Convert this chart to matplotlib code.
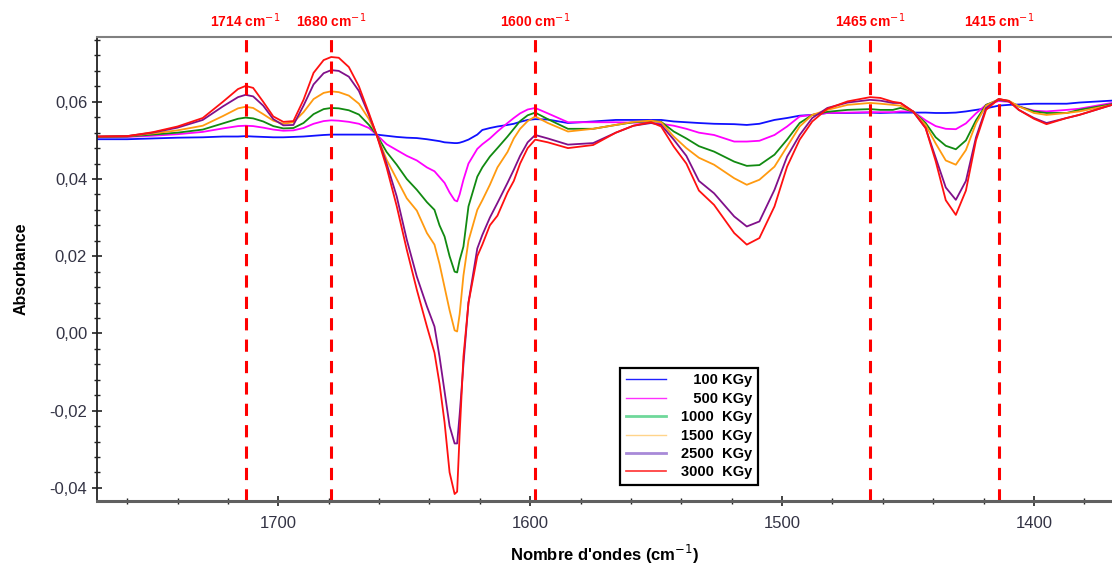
import matplotlib
matplotlib.use('Agg')
import matplotlib.pyplot as plt
from matplotlib.lines import Line2D
from matplotlib.ticker import MultipleLocator, FuncFormatter

# nombre d'onde (cm-1)
wn = [1772, 1760, 1750, 1740, 1730, 1722, 1716, 1713, 1710, 1706,
      1702, 1698, 1694, 1690, 1686, 1682, 1679, 1676, 1672, 1668,
      1664, 1661, 1657, 1653, 1649, 1645, 1641, 1638, 1636, 1634,
      1632, 1630, 1629, 1628, 1626.5, 1624.5, 1621, 1619, 1616, 1613,
      1609, 1606.5, 1604, 1601, 1598, 1593, 1585, 1575, 1566, 1559,
      1552, 1548, 1543, 1538, 1533, 1527, 1519, 1514, 1509, 1503,
      1498, 1493, 1488, 1482, 1474, 1465, 1461, 1456, 1453, 1448,
      1443, 1439, 1435, 1431, 1427, 1423, 1419, 1414, 1410, 1406,
      1400, 1395, 1387, 1382, 1369]

a100 = [0.0503, 0.0503, 0.0505, 0.0507, 0.0508, 0.0510, 0.0510, 0.0511, 0.0510, 0.0509,
        0.0508, 0.0508, 0.0509, 0.0510, 0.0512, 0.0514, 0.0515, 0.0515, 0.0515, 0.0515,
        0.0515, 0.0515, 0.0512, 0.0509, 0.0507, 0.0506, 0.0503, 0.0500, 0.0498, 0.0495,
        0.0494, 0.0493, 0.0493, 0.0494, 0.0497, 0.0502, 0.0515, 0.0527, 0.0532, 0.0536,
        0.0540, 0.0543, 0.0548, 0.0553, 0.0555, 0.0554, 0.0545, 0.0549, 0.0553, 0.0553,
        0.0553, 0.0553, 0.0549, 0.0547, 0.0545, 0.0543, 0.0542, 0.0540, 0.0543, 0.0553,
        0.0558, 0.0564, 0.0566, 0.0571, 0.0571, 0.0572, 0.0571, 0.0572, 0.0572, 0.0572,
        0.0572, 0.0571, 0.0571, 0.0572, 0.0575, 0.0579, 0.0583, 0.0590, 0.0592, 0.0593,
        0.0595, 0.0595, 0.0595, 0.0598, 0.0603]

a500 = [0.0509, 0.0509, 0.0512, 0.0516, 0.0522, 0.0531, 0.0537, 0.0538, 0.0537, 0.0533,
        0.0528, 0.0525, 0.0526, 0.0532, 0.0543, 0.0550, 0.0552, 0.0551, 0.0548, 0.0543,
        0.0532, 0.0515, 0.0490, 0.0475, 0.0460, 0.0448, 0.0430, 0.0420, 0.0405, 0.0390,
        0.0365, 0.0345, 0.0342, 0.0360, 0.0398, 0.0440, 0.0478, 0.0490, 0.0505, 0.0523,
        0.0545, 0.0558, 0.0570, 0.0580, 0.0584, 0.0570, 0.0547, 0.0547, 0.0547, 0.0546,
        0.0545, 0.0543, 0.0538, 0.0530, 0.0520, 0.0514, 0.0497, 0.0497, 0.0499, 0.0514,
        0.0536, 0.0562, 0.0566, 0.0571, 0.0572, 0.0573, 0.0573, 0.0573, 0.0575, 0.0575,
        0.0552, 0.0537, 0.0530, 0.0529, 0.0544, 0.0570, 0.0592, 0.0602, 0.0600, 0.0588,
        0.0577, 0.0575, 0.0579, 0.0582, 0.0597]

a1000 = [0.0509, 0.0510, 0.0515, 0.0520, 0.0528, 0.0544, 0.0556, 0.0559, 0.0557, 0.0549,
         0.0537, 0.0531, 0.0532, 0.0545, 0.0568, 0.0581, 0.0584, 0.0583, 0.0578, 0.0567,
         0.0540, 0.0515, 0.0470, 0.0437, 0.0400, 0.0372, 0.0340, 0.0320, 0.0280, 0.0251,
         0.0200, 0.0160, 0.0158, 0.0190, 0.0225, 0.0329, 0.0406, 0.0430, 0.0458, 0.0480,
         0.0510, 0.0530, 0.0550, 0.0565, 0.0572, 0.0555, 0.0530, 0.0530, 0.0540, 0.0547,
         0.0550, 0.0548, 0.0523, 0.0505, 0.0485, 0.0471, 0.0445, 0.0434, 0.0436, 0.0463,
         0.0502, 0.0545, 0.0566, 0.0574, 0.0579, 0.0581, 0.0579, 0.0579, 0.0584, 0.0575,
         0.0545, 0.0508, 0.0486, 0.0477, 0.0500, 0.0552, 0.0592, 0.0605, 0.0601, 0.0588,
         0.0575, 0.0571, 0.0571, 0.0579, 0.0594]

a1500 = [0.0510, 0.0511, 0.0518, 0.0526, 0.0538, 0.0563, 0.0583, 0.0587, 0.0584, 0.0568,
         0.0551, 0.0543, 0.0547, 0.0573, 0.0607, 0.0623, 0.0627, 0.0625, 0.0616, 0.0595,
         0.0555, 0.0515, 0.0450, 0.0400, 0.0350, 0.0318, 0.0260, 0.0230, 0.0180, 0.0120,
         0.0060, 0.0008, 0.0005, 0.0050, 0.0150, 0.0240, 0.0320, 0.0345, 0.0385, 0.0430,
         0.0470, 0.0505, 0.0530, 0.0550, 0.0562, 0.0545, 0.0523, 0.0530, 0.0540, 0.0548,
         0.0551, 0.0547, 0.0510, 0.0480, 0.0455, 0.0437, 0.0402, 0.0385, 0.0398, 0.0432,
         0.0484, 0.0536, 0.0566, 0.0579, 0.0592, 0.0597, 0.0595, 0.0592, 0.0590, 0.0575,
         0.0540, 0.0492, 0.0448, 0.0437, 0.0475, 0.0544, 0.0590, 0.0607, 0.0603, 0.0588,
         0.0571, 0.0566, 0.0571, 0.0575, 0.0592]

a2500 = [0.0510, 0.0511, 0.0520, 0.0533, 0.0553, 0.0588, 0.0612, 0.0618, 0.0614, 0.0590,
         0.0555, 0.0539, 0.0540, 0.0590, 0.0645, 0.0674, 0.0682, 0.0680, 0.0665, 0.0628,
         0.0565, 0.0515, 0.0440, 0.0355, 0.0243, 0.0147, 0.0070, 0.0018, -0.0060, -0.0150,
         -0.0240, -0.0285, -0.0285, -0.0210, -0.0080, 0.0080, 0.0220, 0.0255, 0.0300, 0.0338,
         0.0390, 0.0424, 0.0460, 0.0495, 0.0514, 0.0505, 0.0489, 0.0493, 0.0520, 0.0538,
         0.0545, 0.0540, 0.0502, 0.0460, 0.0395, 0.0363, 0.0303, 0.0277, 0.0290, 0.0372,
         0.0458, 0.0514, 0.0558, 0.0584, 0.0598, 0.0605, 0.0603, 0.0597, 0.0597, 0.0575,
         0.0532, 0.0455, 0.0378, 0.0346, 0.0395, 0.0508, 0.0584, 0.0607, 0.0602, 0.0579,
         0.0558, 0.0545, 0.0558, 0.0566, 0.0592]

a3000 = [0.0510, 0.0511, 0.0521, 0.0536, 0.0558, 0.0600, 0.0633, 0.0641, 0.0636, 0.0600,
         0.0562, 0.0548, 0.0550, 0.0605, 0.0675, 0.0708, 0.0716, 0.0714, 0.0690, 0.0640,
         0.0570, 0.0515, 0.0430, 0.0330, 0.0217, 0.0113, 0.0018, -0.0050, -0.0130, -0.0230,
         -0.0360, -0.0416, -0.0410, -0.0260, -0.0060, 0.0079, 0.0200, 0.0230, 0.0280, 0.0305,
         0.0365, 0.0395, 0.0440, 0.0480, 0.0502, 0.0495, 0.0480, 0.0488, 0.0520, 0.0538,
         0.0547, 0.0536, 0.0484, 0.0440, 0.0370, 0.0333, 0.0260, 0.0230, 0.0247, 0.0329,
         0.0432, 0.0502, 0.0549, 0.0582, 0.0601, 0.0612, 0.0610, 0.0600, 0.0597, 0.0575,
         0.0532, 0.0446, 0.0345, 0.0307, 0.0370, 0.0500, 0.0579, 0.0607, 0.0602, 0.0579,
         0.0556, 0.0542, 0.0558, 0.0566, 0.0592]

series = [a100, a500, a1000, a1500, a2500, a3000]
labels = ['   100 KGy', '   500 KGy', '1000  KGy', '1500  KGy', '2500  KGy', '3000  KGy']
line_colors = ['#1010ff', '#ff00ff', '#118a11', '#ff9a10', '#80108a', '#ff1010']
legend_colors = ['#2020ff', '#ff30ff', '#6fd89a', '#ffd48a', '#a88ad8', '#ff3030']
legend_lw = [1.0, 1.0, 2.0, 1.0, 2.0, 1.2]

# positions des pointillés et étiquettes
peak_pos = [1713, 1679, 1598, 1465, 1414]
peak_txt = ['1714', '1680', '1600', '1465', '1415']

plt.rcParams['font.family'] = ['Liberation Sans', 'DejaVu Sans']

fig = plt.figure(figsize=(11.12, 5.68), dpi=100)
ax = fig.add_axes([0.0872, 0.118, 0.9128, 0.817])

for s, c in zip(series, line_colors):
    ax.plot(wn, s, color=c, lw=1.3)

for p, t in zip(peak_pos, peak_txt):
    ax.axvline(p, color='#ff0000', lw=2.2, dashes=(4, 3))
    ax.text(p, 1.035, t + ' cm$^{-1}$', transform=ax.get_xaxis_transform(),
            ha='center', va='center', color='#ff0000', fontsize=10, fontweight='bold')

ax.set_xlim(1772, 1369)
ax.set_ylim(-0.0434, 0.0768)

ax.xaxis.set_major_locator(MultipleLocator(100))
ax.xaxis.set_minor_locator(MultipleLocator(20))
ax.yaxis.set_major_locator(MultipleLocator(0.02))
ax.yaxis.set_minor_locator(MultipleLocator(0.004))
ax.yaxis.set_major_formatter(FuncFormatter(lambda v, p: f'{v:.2f}'.replace('.', ',').replace('-0,00', '0,00')))

ax.tick_params(axis='both', which='major', direction='inout', length=7, width=1.2,
               labelsize=12, colors='#222222', labelcolor='#333344')
ax.tick_params(axis='both', which='minor', direction='inout', length=4, width=1.0, colors='#222222')
ax.tick_params(axis='x', pad=7)

ax.spines['right'].set_visible(False)
ax.spines['top'].set_color('#808080')
ax.spines['top'].set_linewidth(1.5)
ax.spines['bottom'].set_color('#606060')
ax.spines['bottom'].set_linewidth(2.2)
ax.spines['left'].set_color('#222222')
ax.spines['left'].set_linewidth(1.3)

ax.set_xlabel("Nombre d'ondes (cm$^{-1}$)", fontsize=12, fontweight='bold', labelpad=9)
ax.set_ylabel('Absorbance', fontsize=11.5, fontweight='bold', labelpad=15)

handles = [Line2D([], [], color=c, lw=w) for c, w in zip(legend_colors, legend_lw)]
leg = ax.legend(handles, labels, loc='lower left', bbox_to_anchor=(0.515, 0.034),
                prop={'weight': 'bold', 'size': 10.5}, borderaxespad=0,
                frameon=True, fancybox=False, edgecolor='black', framealpha=1,
                handlelength=2.8, handletextpad=1.0, labelspacing=0.3, borderpad=0.4)
leg.get_frame().set_linewidth(1.6)

fig.savefig('out.png', dpi=100)
